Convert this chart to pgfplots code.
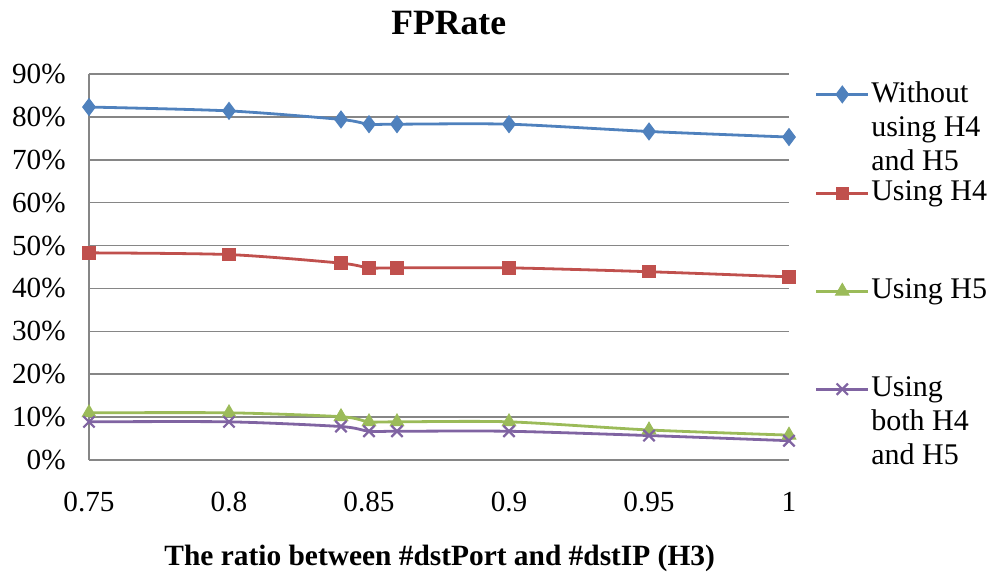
\documentclass[border=0pt]{standalone}
\usepackage{fontspec}
\setmainfont{Liberation Serif}
\usepackage{pgfplots}
\pgfplotsset{compat=1.18}
\definecolor{cblue}{HTML}{4F81BD}
\definecolor{cred}{HTML}{C0504D}
\definecolor{cgreen}{HTML}{9BBB59}
\definecolor{cpurple}{HTML}{8064A2}
\definecolor{gridgray}{HTML}{868686}
\newcommand{\legtxt}[1]{\parbox[t]{58bp}{\raggedright\fontsize{15bp}{17bp}\selectfont #1}}
\begin{document}
\begin{tikzpicture}
\begin{axis}[
  scale only axis,
  width=350bp, height=193bp,
  xmin=0.75, xmax=1, ymin=0, ymax=90,
  axis x line*=bottom, axis y line*=left,
  axis line style={gridgray, line width=0.75bp, -},
  xtick={0.75,0.8,0.85,0.9,0.95,1},
  ytick={0,10,...,90},
  major tick length=0pt,
  ymajorgrids, major grid style={gridgray, line width=0.75bp},
  /pgf/number format/assume math mode=true,
  xticklabel style={font=\fontsize{14.6bp}{17bp}\selectfont, anchor=base, yshift=-25.9bp, inner sep=0pt},
  yticklabel style={font=\fontsize{14.6bp}{17bp}\selectfont, anchor=east, inner sep=0pt, xshift=-11.5bp},
  yticklabel={\pgfmathprintnumber{\tick}\%},
  xticklabel={\pgfmathprintnumber[fixed,precision=2]{\tick}},
  title={FPRate},
  title style={font=\bfseries\fontsize{17.8bp}{20bp}\selectfont, at={(0.514,1)}, anchor=base, yshift=13.9bp, inner sep=0pt},
  xlabel={The ratio between \#dstPort and \#dstIP (H3)},
  xlabel style={font=\bfseries\fontsize{14.7bp}{17bp}\selectfont, at={(0.501,0)}, anchor=base, yshift=-52.5bp, inner sep=0pt},
  clip=false,
  legend image code/.code={\draw[#1, mark repeat=2, mark phase=2] plot coordinates {(0bp,3.8bp) (13bp,3.8bp) (26bp,3.8bp)};},
  legend style={draw=none, fill=none, at={(1.037,1)}, anchor=north west, inner sep=0pt, outer sep=0pt,
    yshift=-2bp, row sep=37bp, column sep=0.8bp,
    cells={anchor=base west},
    nodes={inner sep=0pt, outer sep=0pt, text height=12bp, text depth=0pt}},
  every axis plot/.append style={line width=1.4bp, smooth, tension=0.45},
]
\addplot[cblue, mark=diamond*, mark size=4.2bp, mark options={solid, fill=cblue, line width=0.5bp}] coordinates {
(0.75,82.3) (0.80,81.4) (0.84,79.4) (0.85,78.3) (0.86,78.3) (0.90,78.3) (0.95,76.6) (1.00,75.3)};
\addlegendentry{\legtxt{Without\\using H4\\and H5}}
\addplot[cred, mark=square*, mark size=3.1bp, mark options={solid, fill=cred, line width=0.5bp}] coordinates {
(0.75,48.3) (0.80,47.9) (0.84,45.9) (0.85,44.8) (0.86,44.8) (0.90,44.8) (0.95,43.9) (1.00,42.7)};
\addlegendentry{\legtxt{Using H4}}
\addplot[cgreen, mark=triangle*, mark size=3.9bp, mark options={solid, fill=cgreen, line width=0.5bp}] coordinates {
(0.75,11.0) (0.80,11.0) (0.84,10.1) (0.85,8.9) (0.86,8.9) (0.90,8.9) (0.95,7.0) (1.00,5.8)};
\addlegendentry{\legtxt{Using H5}}
\addplot[cpurple, mark=x, mark size=4bp, mark options={solid, line width=1.1bp}] coordinates {
(0.75,8.9) (0.80,8.9) (0.84,7.8) (0.85,6.7) (0.86,6.7) (0.90,6.7) (0.95,5.7) (1.00,4.5)};
\addlegendentry{\legtxt{Using\\both H4\\and H5}}
\coordinate (bl) at (rel axis cs:0,0);
\end{axis}
\pgfresetboundingbox
\path ([shift={(-44.5bp,-57bp)}]bl) rectangle ([shift={(450.5bp,230bp)}]bl);
\end{tikzpicture}
\end{document}
